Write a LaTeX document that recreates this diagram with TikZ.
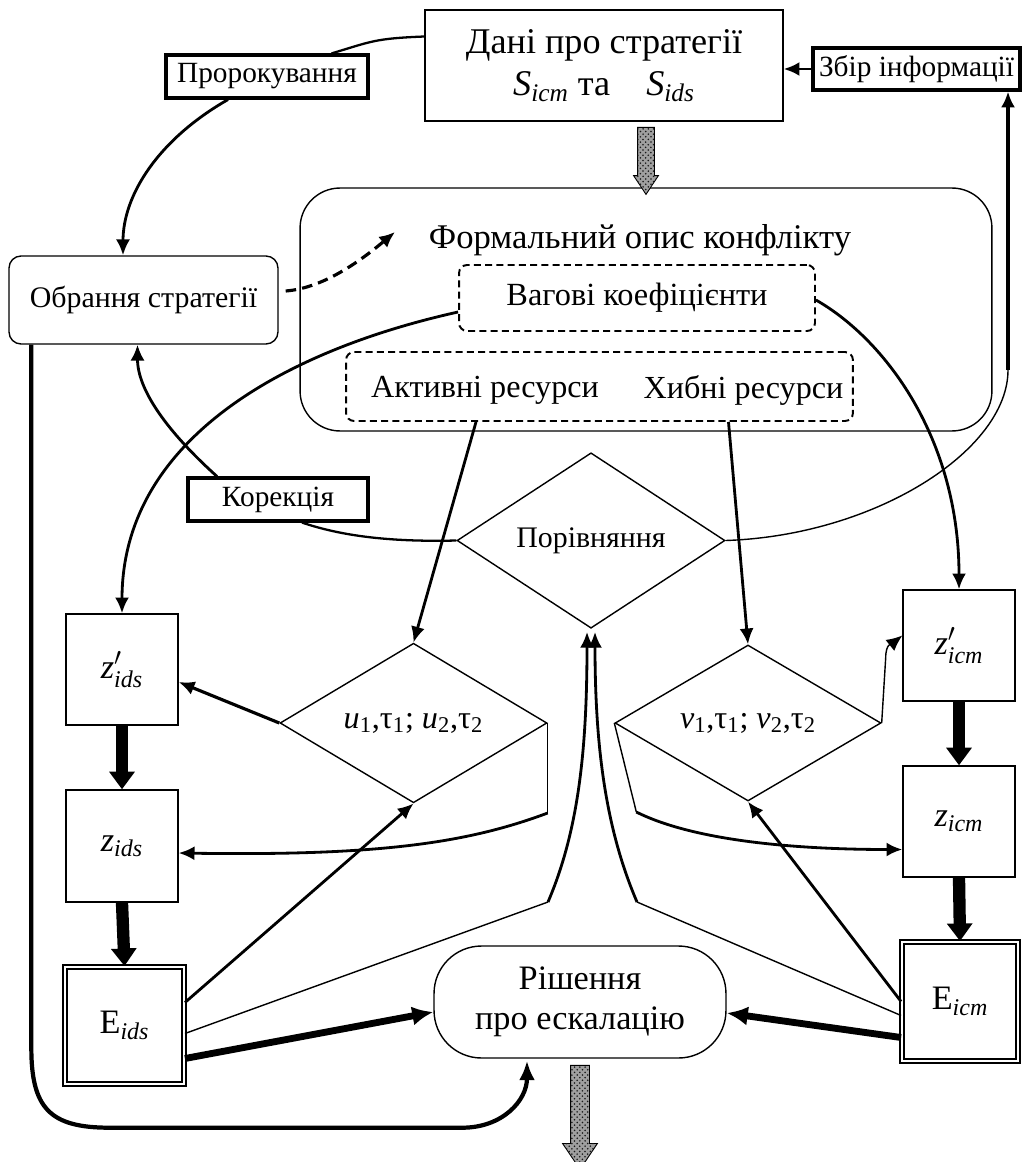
\documentclass[tikz,border=0pt]{standalone}
\usepackage{amsmath}
\usepackage{fontspec}
\setmainfont{Liberation Serif}
\usetikzlibrary{arrows.meta,shapes.geometric,shapes.arrows,patterns,calc}

\begin{document}
\begin{tikzpicture}[x=0.02cm,y=-0.02cm,
  every node/.style={font=\fontsize{19.5}{23}\selectfont},
  box/.style={draw,line width=0.8pt,inner sep=0pt,align=center},
  lbox/.style={draw,line width=1.8pt,inner sep=0pt,font=\fontsize{16.7}{19}\selectfont},
  dbox/.style={draw,line width=1.1pt,rounded corners=0.16cm,dash pattern=on 4pt off 2.4pt},
  dia/.style={diamond,draw,line width=0.8pt,inner sep=0pt},
  ebox/.style={box,double,line width=1.1pt,double distance=1.3pt},
  arr/.style={line width=1.6pt,-{Latex[length=9pt,width=8pt]}},
  thin/.style={line width=0.8pt},
  blk/.style={line width=7pt,-{Triangle[length=10pt,width=14pt]}},
  fat/.style={line width=3.9pt,-{Latex[length=12pt,width=11pt]}},
  harrow/.style={single arrow,draw,line width=0.5pt,fill=gray!75,postaction={pattern=crosshatch dots,pattern color=black!90},inner xsep=0pt,rotate=-90}]
  \useasboundingbox (0,0) rectangle (1023,1162);
  % top row
  \node[box,minimum width=7.16cm,minimum height=2.22cm,font=\fontsize{20.6}{24}\selectfont] (data) at (604,65.5) {Дані про стратегії\\ \textit{S}\textsubscript{\textit{icm}} та\quad \textit{S}\textsubscript{\textit{ids}}};
  \node[lbox,minimum width=4.14cm,minimum height=0.84cm] (info) at (916.5,69) {Збір інформації};
  \node[lbox,minimum width=4.04cm,minimum height=0.86cm] (prop) at (267,76.5) {Пророкування};
  \node[box,rounded corners=0.24cm,minimum width=5.38cm,minimum height=1.76cm,font=\fontsize{17}{19}\selectfont] (obr) at (143.5,300) {Обрання стратегії};
  % formal description
  \node[box,rounded corners=0.8cm,minimum width=13.84cm,minimum height=4.86cm] (formal) at (646,309.5) {};
  \node[font=\fontsize{19.7}{23}\selectfont] (ftitle) at (640,240) {Формальний опис конфлікту};
  \node[dbox,minimum width=7.12cm,minimum height=1.32cm,font=\fontsize{18.4}{21}\selectfont] (wag) at (637,298) {Вагові коефіцієнти};
  \node[dbox,minimum width=10.14cm,minimum height=1.38cm] (res) at (599.5,386.5) {};
  \node[font=\fontsize{18.3}{21}\selectfont] (act) at (485,390) {Активні ресурси};
  \node[font=\fontsize{18.3}{21}\selectfont] (fls) at (743.5,390) {Хибні ресурси};
  \node[lbox,minimum width=3.6cm,minimum height=0.86cm] (kor) at (278,499.5) {Корекція};
  \node[dia,minimum width=5.36cm,minimum height=2.66cm,font=\fontsize{17}{19}\selectfont] (cmp) at (591,540.5) {Порівняння};
  % left column
  \node[box,minimum width=2.24cm,minimum height=2.22cm] (zpids) at (122,669.5) {$\mathit{z}'_{\mathit{ids}}$};
  \node[box,minimum width=2.24cm,minimum height=2.24cm] (zids) at (122,846) {$\mathit{z}_{\mathit{ids}}$};
  \node[ebox,minimum width=2.38cm,minimum height=2.34cm] (eids) at (124.5,1025.5) {E\textsubscript{\textit{ids}}};
  \node[dia,minimum width=5.34cm,minimum height=2.66cm,font=\fontsize{18.3}{21}\selectfont] (udia) at (413.5,723) {\textit{u}\textsubscript{1},τ\textsubscript{1}; \textit{u}\textsubscript{2},τ\textsubscript{2}};
  % right column
  \node[dia,minimum width=5.32cm,minimum height=2.64cm,font=\fontsize{18.3}{21}\selectfont] (vdia) at (748,723) {\textit{v}\textsubscript{1},τ\textsubscript{1}; \textit{v}\textsubscript{2},τ\textsubscript{2}};
  \node[box,minimum width=2.24cm,minimum height=2.22cm] (zpicm) at (959,645.5) {$\mathit{z}'_{\mathit{icm}}$};
  \node[box,minimum width=2.24cm,minimum height=2.22cm] (zicm) at (959,821.5) {$\mathit{z}_{\mathit{icm}}$};
  \node[ebox,minimum width=2.32cm,minimum height=2.38cm] (eicm) at (960,1001.5) {E\textsubscript{\textit{icm}}};
  \node[box,rounded corners=0.95cm,minimum width=5.84cm,minimum height=2.24cm] (dec) at (580,1002) {Рішення\\про ескалацію};
  % free ends
  \coordinate (dsh) at (395,232);
  \coordinate (up) at (1008,370);
  \coordinate (lb) at (548,902);
  \coordinate (rb) at (637,902);
  \coordinate (out) at (580,1162);
  % hatched arrows
  \node[harrow,minimum height=1.34cm,inner ysep=0.16cm,single arrow head extend=0.08cm,single arrow tip angle=67] (h1) at ($(formal.north)!0.5!(formal.north |- data.south)$) {};
  \node[harrow,minimum height=2.08cm,inner ysep=0.18cm,single arrow head extend=0.16cm,single arrow tip angle=68] (h2) at ($(dec.south)!0.5!(out)$) {};
  % connectors
  \draw[line width=1.3pt] ($(data.west)+(0,-29)$) .. controls +(-50,2) and +(40,-12) .. ($(prop.north east)+(-38,0)$);
  \draw[arr] ($(prop.south)+(-39,0)$) .. controls +(-70,40) and +(0,-60) .. ($(obr.north)+(-20.5,0)$);
  \draw[arr] (info.west) -- (info.west -| data.east);
  \draw[arr,dash pattern=on 6pt off 3.5pt,line width=1.8pt] ($(obr.east)+(7,-9)$) .. controls +(40,-3) and +(-30,25) .. (dsh);
  \draw[arr] ($(wag.west)+(0,14)$) .. controls +(-180,40) and +(0,-170) .. (zpids.north);
  \draw[arr] ($(kor.north)+(-61,0)$) .. controls +(-50,-45) and +(0,45) .. ($(obr.south)+(-6,0)$);
  \draw[line width=1.3pt] (cmp.west) .. controls +(-80,2) and +(30,10) .. ($(kor.south)+(24,0)$);
  \draw[arr] ($(act.south |- res.south)+(-9,0)$) -- (udia.north);
  \draw[arr] ($(fls.south |- res.south)+(-15,0)$) -- (vdia.north);
  \draw[arr] ($(wag.east)+(0,2)$) .. controls +(70,40) and +(0,-150) .. (zpicm.north);
  \draw[thin] (cmp.east) .. controls +(150,-5) and +(0,80) .. (up);
  \draw[arr,line width=1.8pt] (up) -- (up |- info.south);
  % left side
  \draw[arr,line width=1.8pt] (udia.west) -- ($(zpids.east)+(0,12.5)$);
  \draw[thin] (udia.east) -- ++(0,90) coordinate (ub);
  \draw[arr] (ub) .. controls +(-80,30) and +(200,3) .. ($(zids.east)+(0,7)$);
  \draw[blk] (zpids.south) -- (zids.north);
  \draw[blk] (zids.south) -- (eids.north);
  \draw[arr] ($(eids.east)+(0,-23)$) -- (udia.south);
  \draw[thin] ($(eids.east)+(0,8)$) -- (lb);
  \draw[arr] (lb) .. controls +(30,-70) and +(0,120) .. ($(cmp.south)+(-4,3)$);
  \draw[fat] ($(eids.east)+(0,33)$) -- ($(dec.west)+(0,10)$);
  % right side
  \draw[thin,-{Latex[length=9pt,width=8pt]}] (vdia.east) -- ++(4,-65) .. controls +(0,-15) and +(-10,8) .. ($(zpicm.west)+(0,-10)$);
  \draw[thin] (vdia.west) -- ++(22,89) coordinate (vb);
  \draw[arr] (vb) .. controls +(60,30) and +(-100,0) .. ($(zicm.west)+(0,28)$);
  \draw[blk] (zpicm.south) -- (zicm.north);
  \draw[blk] (zicm.south) -- (eicm.north);
  \draw[arr] (eicm.west) -- (vdia.south);
  \draw[thin] ($(eicm.west)+(0,14)$) -- (rb);
  \draw[arr] (rb) .. controls +(-30,-70) and +(0,120) .. ($(cmp.south)+(4,3)$);
  \draw[fat] ($(eicm.west)+(0,36)$) -- ($(dec.east)+(0,11)$);
  % strategy choice feeds the decision
  \draw[line width=2.4pt,-{Latex[length=11pt,width=9pt]}] ($(obr.south west)+(23,0)$) -- ++(0,703) .. controls +(0,60) and +(-60,0) .. ++(78,80) -- ++(353,0) .. controls +(40,0) and +(0,40) .. ($(dec.south)+(-53,2)$);
\end{tikzpicture}
\end{document}
